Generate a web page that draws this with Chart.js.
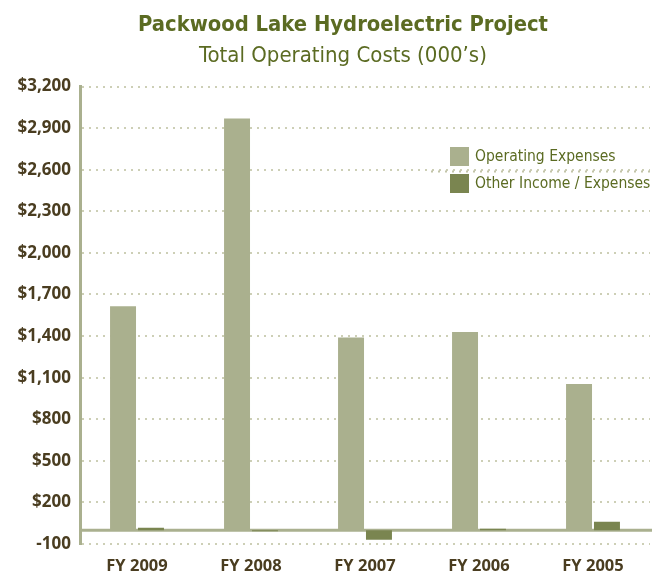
<!DOCTYPE html>
<html>
<head>
<meta charset="utf-8">
<script src="https://cdn.jsdelivr.net/npm/chart.js@4.4.1/dist/chart.umd.min.js"></script>
<style>
	html, body { margin: 0; padding: 0; background: #fff; }
	#wrap { width: 652px; height: 571px; }
</style>
</head>
<body>
<div id="wrap"><canvas id="chart"></canvas></div>
<script>
let categories = ["FY 2009", "FY 2008", "FY 2007", "FY 2006", "FY 2005"];
let operating = [1615, 2970, 1390, 1430, 1055];
let other = [18, -8, -70, 10, 60];
let seriesNames = ["Operating Expenses", "Other Income / Expenses"];

let narrow = "'Liberation Sans Narrow', 'DejaVu Sans Condensed', Roboto, sans-serif";
let green = "#5b6b22";
let brown = "#4a3d20";
let lineCol = "#aab08f";

// the titles sit a bit right of the canvas centre in the original
let titleShift = {
	id: "titleShift",
	afterLayout: function (chart) {
		chart.boxes.forEach(function (b) {
			if (b.position === "top" && b.options && b.options.text !== undefined) {
				b.left += 18;
				b.right += 18;
			}
		});
	},
};

// zero line, drawn under the bars
let zeroLine = {
	id: "zeroLine",
	beforeDatasetsDraw: function (chart) {
		let y = chart.scales.y.getPixelForValue(0);
		let a = chart.chartArea;
		let ctx = chart.ctx;
		ctx.save();
		ctx.strokeStyle = lineCol;
		ctx.lineWidth = 3;
		ctx.beginPath();
		ctx.moveTo(a.left, y);
		ctx.lineTo(a.right + 2, y);
		ctx.stroke();
		ctx.restore();
	},
};

// legend inside the plot, top right
let boxLegend = {
	id: "boxLegend",
	afterDraw: function (chart) {
		let ctx = chart.ctx;
		let x = 450;
		let y0 = 147;
		ctx.save();
		ctx.font = "15.5px " + narrow;
		ctx.textBaseline = "middle";
		chart.data.datasets.forEach(function (ds, i) {
			let y = y0 + i * 27;
			ctx.fillStyle = ds.backgroundColor;
			ctx.fillRect(x, y, 19, 19);
			ctx.fillStyle = green;
			ctx.fillText(ds.label, x + 25, y + 10);
		});
		// dotted separator
		ctx.strokeStyle = "#c2c4a8";
		ctx.lineWidth = 2;
		ctx.setLineDash([2, 5]);
		ctx.beginPath();
		ctx.moveTo(431, y0 + 24.5);
		ctx.lineTo(652, y0 + 24.5);
		ctx.stroke();
		ctx.restore();
	},
};

let chart = new Chart(document.getElementById("chart"), {
	type: "bar",
	data: {
		labels: categories,
		datasets: [
			{
				label: seriesNames[0],
				data: operating,
				backgroundColor: "#aab08e",
				categoryPercentage: 0.49,
				barPercentage: 0.93,
			},
			{
				label: seriesNames[1],
				data: other,
				backgroundColor: "#7a8550",
				categoryPercentage: 0.49,
				barPercentage: 0.93,
			},
		],
	},
	options: {
		responsive: true,
		maintainAspectRatio: false,
		animation: false,
		layout: {
			padding: { left: 0, right: 2, top: 0, bottom: 0 },
		},
		plugins: {
			legend: { display: false },
			tooltip: { enabled: false },
			title: {
				display: true,
				text: "Packwood Lake Hydroelectric Project",
				color: green,
				font: { family: narrow, size: 21.8, weight: "bold" },
				padding: { top: 12, bottom: 2 },
			},
			subtitle: {
				display: true,
				text: "Total Operating Costs (000\u2019s)",
				color: green,
				font: { family: narrow, size: 22, weight: "normal" },
				padding: { top: 3, bottom: 17 },
			},
		},
		scales: {
			x: {
				afterFit: function (scale) {
					scale.height = 27;
				},
				grid: { display: false },
				border: { display: false },
				ticks: {
					color: brown,
					font: { family: "'Open Sans', sans-serif", size: 16.5, weight: "bold" },
					padding: 4,
				},
			},
			y: {
				min: -100,
				max: 3200,
				afterFit: function (scale) {
					scale.width = 80;
				},
				grid: {
					color: "#cdcfb6",
					lineWidth: 2,
					drawTicks: false,
				},
				border: {
					display: true,
					color: lineCol,
					width: 3,
					dash: [2, 5],
				},
				ticks: {
					stepSize: 300,
					color: brown,
					padding: 9,
					font: { family: "'Open Sans', sans-serif", size: 17, weight: "bold" },
					callback: function (v) {
						return v < 0 ? String(v) : "$" + v.toLocaleString("en-US");
					},
				},
			},
		},
	},
	plugins: [titleShift, zeroLine, boxLegend],
});
</script>
</body>
</html>
